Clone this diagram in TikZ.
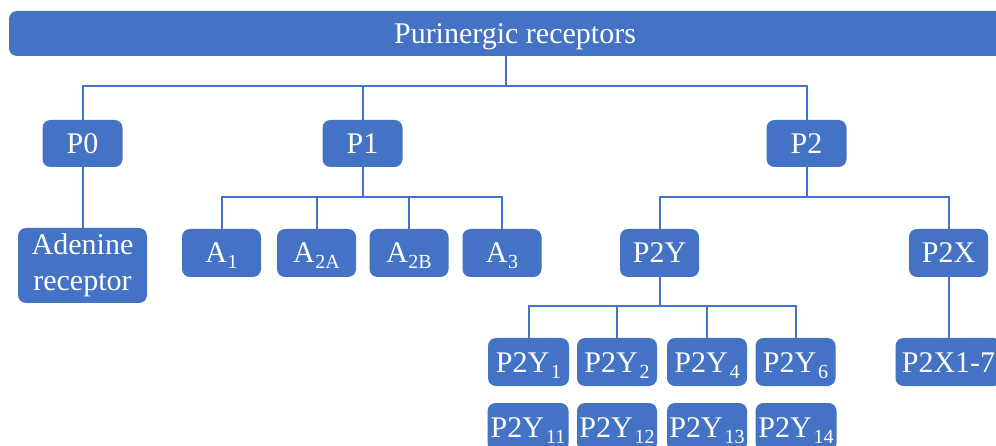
\documentclass[tikz,border=0pt]{standalone}
\usepackage{fontspec}
\setmainfont{Liberation Serif}
\definecolor{rblue}{HTML}{4472C4}
% lowered subscript that does not change the line height
\newcommand\lowsub[2][0.5pt]{\kern#1\smash{\raisebox{-6pt}{\fontsize{20}{20}\selectfont #2}}}
\begin{document}
\begin{tikzpicture}[x=1pt,y=-1pt,
  boxbase/.style={fill=rblue, rounded corners=8pt, text=white, inner sep=0pt,
    font=\fontsize{30}{36}\selectfont, minimum width=80pt, minimum height=47pt},
  box/.style={boxbase, text height=20pt, text depth=0pt},
  link/.style={draw=rblue, line width=2pt}]
\useasboundingbox (0,0) rectangle (996,446);
\clip (0,0) rectangle (996,446);

% root bar
\node[box, minimum width=1012pt, minimum height=45pt] (root) at (515,33.5) {Purinergic receptors};

% first level
\node[box] (P0) at (82.5,143.5) {P0};
\node[box] (P1) at (362.5,143.5) {P1};
\node[box] (P2) at (806.5,143.5) {P2};

% second level
\node[boxbase, align=center, minimum width=129pt, minimum height=75pt] (AR) at (82.5,265.5) {Adenine\\receptor};
\node[box, minimum width=79pt, minimum height=48pt] (A1)  at (221.5,253) {A\lowsub{1}};
\node[box, minimum width=79pt, minimum height=48pt] (A2A) at (316.5,253) {A\lowsub{2A}};
\node[box, minimum width=79pt, minimum height=48pt] (A2B) at (409,253) {A\lowsub{2B}};
\node[box, minimum width=79pt, minimum height=48pt] (A3)  at (502,253) {A\lowsub{3}};
\node[box, minimum width=79pt, minimum height=48pt] (P2Y) at (659.5,253) {P2Y};
\node[box, minimum width=79pt, minimum height=48pt] (P2X) at (948.5,253) {P2X};

% third level
\node[box, minimum width=81pt, minimum height=48pt] (Y1)  at (528.5,362) {P2Y\lowsub[2pt]{1}};
\node[box, minimum width=80pt, minimum height=48pt] (Y2)  at (617,362) {P2Y\lowsub[2pt]{2}};
\node[box, minimum width=80pt, minimum height=48pt] (Y4)  at (707,362) {P2Y\lowsub[2pt]{4}};
\node[box, minimum width=80pt, minimum height=48pt] (Y6)  at (795.5,362) {P2Y\lowsub[2pt]{6}};
\node[box, minimum width=106pt, minimum height=48pt] (X17) at (948.5,362) {P2X1-7};

\node[box, minimum width=81pt, minimum height=48pt] (Y11) at (528,427) {P2Y\lowsub[2pt]{11}};
\node[box, minimum width=80pt, minimum height=48pt] (Y12) at (617,427) {P2Y\lowsub[2pt]{12}};
\node[box, minimum width=80pt, minimum height=48pt] (Y13) at (707,427) {P2Y\lowsub[2pt]{13}};
\node[box, minimum width=81pt, minimum height=48pt] (Y14) at (796,427) {P2Y\lowsub[2pt]{14}};

% bus junctions
\coordinate (rb) at (506,86);
\coordinate (b1) at (362.5,197);
\coordinate (b2) at (806.5,197);
\coordinate (b3) at (659.5,306);

% root to first level
\draw[link] (root.south -| rb) -- (rb);
\draw[link] (P0.north) -- (P0.north |- rb) -- (P2.north |- rb) -- (P2.north);
\draw[link] (P1.north) -- (P1.north |- rb);

% P0 branch
\draw[link] (P0.south) -- (AR.north);

% P1 branch
\draw[link] (P1.south) -- (b1);
\draw[link] (A1.north) -- (A1.north |- b1) -- (A3.north |- b1) -- (A3.north);
\draw[link] (A2A.north) -- (A2A.north |- b1);
\draw[link] (A2B.north) -- (A2B.north |- b1);

% P2 branch
\draw[link] (P2.south) -- (b2);
\draw[link] (P2Y.north) -- (P2Y.north |- b2) -- (P2X.north |- b2) -- (P2X.north);

% P2Y branch
\draw[link] (P2Y.south) -- (b3);
\draw[link] (Y1.north) -- (Y1.north |- b3) -- (Y6.north |- b3) -- (Y6.north);
\draw[link] (Y2.north) -- (Y2.north |- b3);
\draw[link] (Y4.north) -- (Y4.north |- b3);

% P2X branch
\draw[link] (P2X.south) -- (X17.north);
\end{tikzpicture}
\end{document}
